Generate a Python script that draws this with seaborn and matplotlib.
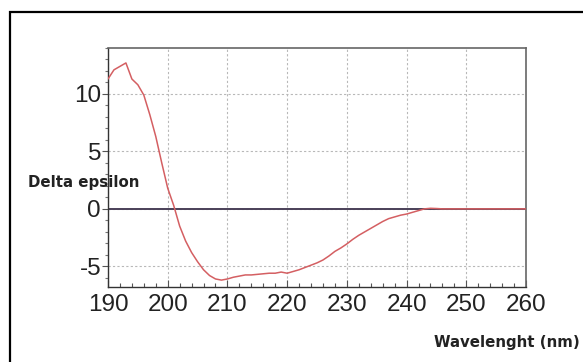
import matplotlib
matplotlib.use("Agg")
import matplotlib.pyplot as plt
import seaborn as sns
import pandas as pd
from matplotlib.ticker import MultipleLocator
from matplotlib.patches import Rectangle

wavelength = [190, 191, 192, 193, 194, 195, 196, 197, 198, 199, 200,
              201, 202, 203, 204, 205, 206, 207, 208, 209, 210,
              211, 212, 213, 214, 215, 216, 217, 218, 219, 220,
              221, 222, 223, 224, 225, 226, 227, 228, 229, 230,
              231, 232, 233, 234, 235, 236, 237, 238, 239, 240,
              241, 242, 243, 244, 245, 246, 247, 248, 250, 255, 260]
delta_epsilon = [11.3, 12.1, 12.4, 12.7, 11.3, 10.8, 9.9, 8.2, 6.3, 4.0, 1.8,
                 0.3, -1.5, -2.8, -3.8, -4.6, -5.3, -5.8, -6.1, -6.2, -6.1,
                 -5.95, -5.85, -5.75, -5.75, -5.7, -5.65, -5.6, -5.6, -5.5, -5.6,
                 -5.45, -5.3, -5.1, -4.9, -4.7, -4.45, -4.1, -3.7, -3.4, -3.05,
                 -2.65, -2.3, -2.0, -1.7, -1.4, -1.1, -0.85, -0.7, -0.55, -0.45,
                 -0.3, -0.15, 0.0, 0.05, 0.03, 0.0, 0.0, 0.0, 0.0, 0.0, 0.0]
x_ticks = [190, 200, 210, 220, 230, 240, 250, 260]
y_ticks = [-5, 0, 5, 10]

df = pd.DataFrame({"wavelength": wavelength, "delta_epsilon": delta_epsilon})

sns.set_style("white")
plt.rcParams["font.family"] = ["DejaVu Sans"]
plt.rcParams["axes.unicode_minus"] = False

fig = plt.figure(figsize=(5.83, 3.62), dpi=100)
ax = fig.add_axes([108 / 583, 1 - 287 / 362, (526 - 108) / 583, (287 - 48) / 362])

ax.axhline(0, color="#4a4058", lw=1.4, zorder=2)
sns.lineplot(data=df, x="wavelength", y="delta_epsilon", ax=ax,
             color="#d45f62", lw=1.1, zorder=3)

ax.set_xlim(190, 260)
ax.set_ylim(-6.8, 14.0)
ax.set_xticks(x_ticks)
ax.set_yticks(y_ticks)
ax.xaxis.set_minor_locator(MultipleLocator(2))
ax.yaxis.set_minor_locator(MultipleLocator(1))
ax.grid(True, which="major", color="#b8b8b8", ls=(0, (2, 2)), lw=0.8)
ax.set_xlabel("")
ax.set_ylabel("")

for lab in ax.get_xticklabels() + ax.get_yticklabels():
    lab.set_family(["Liberation Sans"])
    lab.set_fontsize(17.5)
    lab.set_color("#222222")

ax.tick_params(axis="x", which="major", direction="in", length=5, width=0.8,
               color="#555555", pad=5, bottom=True)
ax.tick_params(axis="x", which="minor", direction="in", length=3, width=0.8,
               color="#555555", bottom=True)
ax.tick_params(axis="y", which="major", direction="out", length=4, width=0.8,
               color="#555555", pad=1, left=True)
ax.tick_params(axis="y", which="minor", direction="out", length=2, width=0.8,
               color="#777777", left=True)

for side in ["left", "bottom"]:
    ax.spines[side].set_color("#333333")
    ax.spines[side].set_linewidth(1.0)
for side in ["top", "right"]:
    ax.spines[side].set_color("#666666")
    ax.spines[side].set_linewidth(1.2)

fig.text(28 / 583, 1 - 182 / 362, "Delta epsilon", fontsize=10.8,
         fontweight="bold", color="#222222", ha="left", va="center")
fig.text(580 / 583, 1 - 342 / 362, "Wavelenght (nm)", fontsize=10.8,
         fontweight="bold", color="#222222", ha="right", va="center")

fig.patches.append(Rectangle((10 / 583, -0.1), 1.2, 1 - 12 / 362 + 0.1,
                             transform=fig.transFigure, fill=False,
                             edgecolor="black", lw=1.6, zorder=10))

fig.savefig("out.png", dpi=100)
